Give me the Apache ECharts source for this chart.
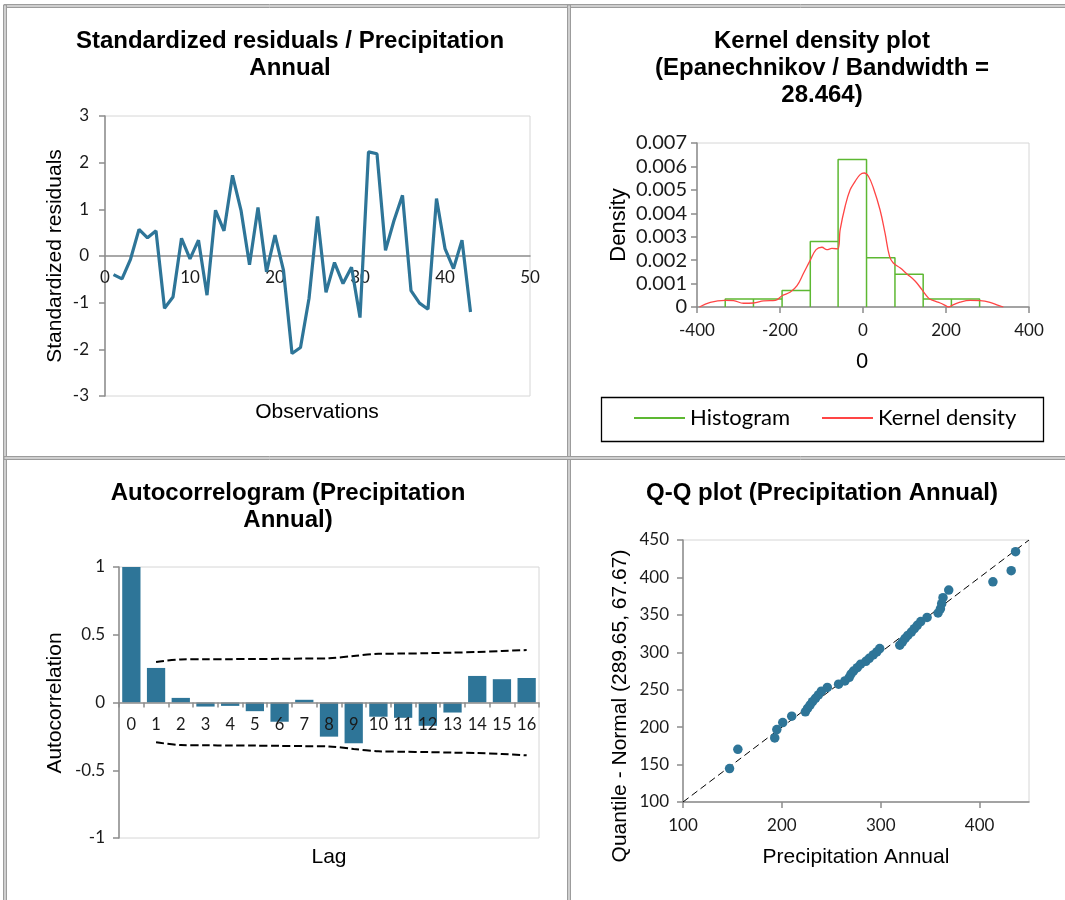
<!DOCTYPE html>
<html>
<head>
<meta charset="utf-8">
<script src="https://cdn.jsdelivr.net/npm/echarts@6/dist/echarts.min.js"></script>
<style>
html, body { margin: 0; padding: 0; background: #fff; }
#chart { width: 1065px; height: 900px; }
</style>
</head>
<body>
<div id="chart"></div>
<script>
// Standardized residuals, one per observation (1..43)
const residuals = [-0.40, -0.49, -0.07, 0.57, 0.39, 0.54, -1.12, -0.88, 0.38, -0.06,
  0.34, -0.84, 0.98, 0.54, 1.73, 0.98, -0.19, 1.04, -0.34, 0.45,
  -0.31, -2.09, -1.96, -0.91, 0.85, -0.78, -0.14, -0.59, -0.24, -1.32,
  2.23, 2.19, 0.12, 0.76, 1.30, -0.74, -1.01, -1.14, 1.23, 0.16,
  -0.27, 0.34, -1.20];

// Histogram of residuals: bin edges and densities
const histEdges = [-332, -264, -195, -127, -60, 8.5, 77, 145, 213, 281];
const histDensity = [0.00034, 0.00034, 0.0007, 0.0028, 0.0063, 0.0021, 0.0014, 0.00034, 0.00034];

// Epanechnikov kernel density estimate
const kdeX = [-394, -368, -332, -312, -288, -264, -239, -211, -195, -175, -159, -143, -127, -113,
  -99, -87, -75, -61, -55, -43, -31, -19, -7, 3, 13, 25, 41, 53, 64, 73, 90, 106, 126, 142,
  158, 170, 186, 202, 206, 218, 234, 258, 282, 306, 326, 338];
const kdeY = [0, 0.0002, 0.00028, 0.00027, 0.00016, 0.00017, 0.00026, 0.00028, 0.00048, 0.00064,
  0.00091, 0.00145, 0.002, 0.00245, 0.00255, 0.00245, 0.0025, 0.00248, 0.0033, 0.0043, 0.005,
  0.00536, 0.00565, 0.00572, 0.00558, 0.00508, 0.00415, 0.00316, 0.00216, 0.00188, 0.00166,
  0.00141, 0.0011, 0.00074, 0.00038, 0.00027, 0.00017, 0.00003, 0, 0.0001, 0.00021, 0.00028,
  0.00027, 0.0002, 0.00007, 0];

// Autocorrelogram
const lags = ['0', '1', '2', '3', '4', '5', '6', '7', '8', '9', '10', '11', '12', '13', '14', '15', '16'];
const acf = [1.0, 0.255, 0.034, -0.03, -0.025, -0.064, -0.142, 0.02, -0.252, -0.301,
  -0.105, -0.113, -0.172, -0.074, 0.196, 0.172, 0.181];
const bandUpper = [null, 0.299, 0.318, 0.32, 0.32, 0.321, 0.322, 0.324, 0.326, 0.343,
  0.36, 0.361, 0.364, 0.368, 0.373, 0.38, 0.387];
const bandLower = [null, -0.294, -0.314, -0.316, -0.317, -0.318, -0.32, -0.322, -0.324, -0.343,
  -0.36, -0.363, -0.366, -0.37, -0.373, -0.38, -0.39];

// Q-Q plot: observed precipitation vs normal quantiles
const qqObserved = [147.1, 155.5, 192.8, 194.9, 200.9, 210.0, 223.8, 226.0, 228.5, 231.0,
  234.0, 237.0, 240.0, 246.0, 257.4, 263.8, 268.2, 270.0, 272.5, 276.3,
  279.6, 285.0, 288.4, 292.4, 296.0, 299.0, 319.3, 322.0, 324.7, 327.4,
  331.0, 334.0, 337.0, 340.5, 346.9, 358.0, 360.4, 361.7, 363.0, 368.8,
  413.5, 432.0, 436.4];
const qqNormal = [144.6, 170.4, 185.6, 196.7, 206.1, 214.6, 220.4, 225.0, 229.5, 234.0,
  238.5, 243.0, 248.0, 253.0, 257.4, 261.8, 266.5, 271.0, 275.0, 279.5,
  284.0, 288.0, 292.0, 296.5, 300.5, 305.0, 309.5, 314.0, 318.5, 322.5,
  327.0, 331.5, 336.0, 341.0, 346.5, 352.5, 358.0, 365.0, 373.0, 383.1,
  394.2, 409.0, 434.4];
const qqRefLine = [100, 450];
const qqXTicks = [100, 200, 300, 400];

const BLUE = '#2e7598';
const GREEN = '#5db832';
const RED = '#ff4545';
const AXIS_GRAY = '#8c8c8c';
const BORDER_GRAY = '#d6d6d6';
const F_TITLE = '"Liberation Sans", Arial, sans-serif';
const F_TICK = 'Lato, sans-serif';

// plot boxes (px)
const boxes = [
  { left: 105, top: 116, width: 425, height: 280 },
  { left: 697, top: 143, width: 332, height: 164 },
  { left: 119, top: 567, width: 420, height: 271 },
  { left: 683, top: 540, width: 346, height: 262 }
];

function tick(size) {
  return { fontFamily: F_TICK, fontSize: size, color: '#1a1a1a' };
}
function valueAxis(extra) {
  return Object.assign({
    type: 'value',
    splitLine: { show: false },
    axisLine: { show: true, onZero: false, lineStyle: { color: AXIS_GRAY, width: 1.5 } },
    axisTick: { show: true, inside: false, length: 6, lineStyle: { color: AXIS_GRAY, width: 1.5 } }
  }, extra);
}

// histogram outline as a closed step path over each bin
const histPath = [];
histDensity.forEach((h, i) => {
  histPath.push([histEdges[i], 0], [histEdges[i], h], [histEdges[i + 1], h], [histEdges[i + 1], 0]);
});

function titleText(text, cx, top) {
  return { type: 'text', x: cx, y: top, style: {
    text: text, font: 'bold 24px ' + F_TITLE, textAlign: 'center', textVerticalAlign: 'top',
    lineHeight: 27, fill: '#000' } };
}
function axisTitle(text, cx, cy, size, vertical) {
  return { type: 'text', x: cx, y: cy, rotation: vertical ? Math.PI / 2 : 0, style: {
    text: text, font: size + 'px ' + F_TITLE, textAlign: 'center', textVerticalAlign: 'middle',
    fill: '#000' } };
}
function hLine(y) {
  return { type: 'rect', shape: { x: 4, y: y - 1.5, width: 1070, height: 3 },
    style: { fill: '#cfcfcf', stroke: '#9c9c9c', lineWidth: 1 } };
}
function vLine(x) {
  return { type: 'rect', shape: { x: x - 1.5, y: 5, width: 3, height: 900 },
    style: { fill: '#cfcfcf', stroke: '#9c9c9c', lineWidth: 1 } };
}

const gridBase = { show: true, borderColor: BORDER_GRAY, borderWidth: 1, backgroundColor: 'transparent',
  containLabel: false, outerBoundsMode: 'none' };

const option = {
  animation: false,
  backgroundColor: '#fff',
  grid: boxes.map(b => Object.assign({}, b, gridBase)),
  xAxis: [
    // horizontal axis drawn through the zero line (middle of the -3..3 range)
    valueAxis({ gridIndex: 0, min: 0, max: 50, interval: 10, offset: -boxes[0].height / 2,
      axisTick: { show: false },
      axisLabel: Object.assign({ margin: 13 }, tick(17)) }),
    valueAxis({ gridIndex: 1, min: -400, max: 400, interval: 200,
      axisLabel: Object.assign({ margin: 15 }, tick(17)) }),
    // lag axis drawn through the zero line (middle of the -1..1 range)
    { gridIndex: 2, type: 'category', data: lags, z: 5, offset: -boxes[2].height / 2,
      splitLine: { show: false },
      axisLine: { show: true, onZero: false, lineStyle: { color: AXIS_GRAY, width: 1.5 } },
      axisTick: { show: true, interval: 0, length: 5, alignWithLabel: false, lineStyle: { color: AXIS_GRAY, width: 1.5 } },
      axisLabel: Object.assign({ margin: 14, interval: 0 }, tick(16.5)) },
    valueAxis({ gridIndex: 3, min: 100, max: 450, interval: 100,
      axisTick: { show: true, length: 6, customValues: qqXTicks, lineStyle: { color: AXIS_GRAY, width: 1.5 } },
      axisLabel: Object.assign({ margin: 15, customValues: qqXTicks }, tick(17)) })
  ],
  yAxis: [
    valueAxis({ gridIndex: 0, min: -3, max: 3, interval: 1,
      axisLabel: Object.assign({ margin: 16 }, tick(17)) }),
    valueAxis({ gridIndex: 1, min: 0, max: 0.007, interval: 0.001,
      axisLabel: Object.assign({ margin: 10,
        formatter: v => (Math.abs(v) < 1e-9 ? '0' : v.toFixed(3)) }, tick(20)) }),
    valueAxis({ gridIndex: 2, min: -1, max: 1, interval: 0.5,
      axisLabel: Object.assign({ margin: 14 }, tick(17)) }),
    valueAxis({ gridIndex: 3, min: 100, max: 450, interval: 50,
      axisLabel: Object.assign({ margin: 14 }, tick(17)) })
  ],
  legend: {
    left: 634, top: 407, itemWidth: 51, itemHeight: 2, itemGap: 32, icon: 'rect',
    padding: 0,
    data: ['Histogram', 'Kernel density'],
    textStyle: { fontFamily: F_TICK, fontSize: 22, color: '#000' }
  },
  series: [
    { type: 'line', xAxisIndex: 0, yAxisIndex: 0, showSymbol: false, z: 3,
      data: residuals.map((v, i) => [i + 1, v]),
      lineStyle: { color: BLUE, width: 3.2 }, itemStyle: { color: BLUE } },
    { name: 'Histogram', type: 'line', xAxisIndex: 1, yAxisIndex: 1, showSymbol: false,
      data: histPath, lineStyle: { color: GREEN, width: 1.5 }, itemStyle: { color: GREEN } },
    { name: 'Kernel density', type: 'line', xAxisIndex: 1, yAxisIndex: 1, showSymbol: false, smooth: 0.4,
      data: kdeX.map((x, i) => [x, kdeY[i]]), lineStyle: { color: RED, width: 1.3 }, itemStyle: { color: RED } },
    { type: 'bar', xAxisIndex: 2, yAxisIndex: 2, barCategoryGap: '26%',
      data: acf, itemStyle: { color: BLUE } },
    { type: 'line', xAxisIndex: 2, yAxisIndex: 2, showSymbol: false, smooth: 0.3, connectNulls: false,
      data: bandUpper, lineStyle: { color: '#000', width: 2, type: [8, 3.5] } },
    { type: 'line', xAxisIndex: 2, yAxisIndex: 2, showSymbol: false, smooth: 0.3, connectNulls: false,
      data: bandLower, lineStyle: { color: '#000', width: 2, type: [8, 3.5] } },
    { type: 'line', xAxisIndex: 3, yAxisIndex: 3, showSymbol: false, z: 1,
      data: qqRefLine.map(v => [v, v]), lineStyle: { color: '#000', width: 1, type: [7, 4] } },
    { type: 'scatter', xAxisIndex: 3, yAxisIndex: 3, symbolSize: 9.5, z: 3,
      data: qqObserved.map((x, i) => [x, qqNormal[i]]), itemStyle: { color: BLUE, opacity: 1 } }
  ],
  graphic: [
    hLine(6), vLine(5), vLine(569), hLine(458),
    titleText('Standardized residuals / Precipitation\nAnnual', 290, 28),
    titleText('Kernel density plot\n(Epanechnikov / Bandwidth =\n28.464)', 822, 28),
    titleText('Autocorrelogram (Precipitation\nAnnual)', 288, 480),
    titleText('Q-Q plot (Precipitation Annual)', 822, 480),
    axisTitle('Standardized residuals', 55, 256, 21, true),
    axisTitle('Observations', 317, 412, 21, false),
    axisTitle('Density', 619, 225, 22, true),
    axisTitle('0', 862, 362, 22, false),
    axisTitle('Autocorrelation', 55, 703, 21, true),
    axisTitle('Lag', 329, 857, 21, false),
    axisTitle('Quantile - Normal (289.65, 67.67)', 620, 706, 21, true),
    axisTitle('Precipitation Annual', 856, 857, 21, false),
    { type: 'rect', shape: { x: 601.5, y: 397.5, width: 442, height: 44 },
      style: { fill: 'none', stroke: '#000', lineWidth: 1.3 } }
  ]
};

const chart = echarts.init(document.getElementById('chart'), null, { renderer: 'canvas' });
chart.setOption(option);
</script>
</body>
</html>
